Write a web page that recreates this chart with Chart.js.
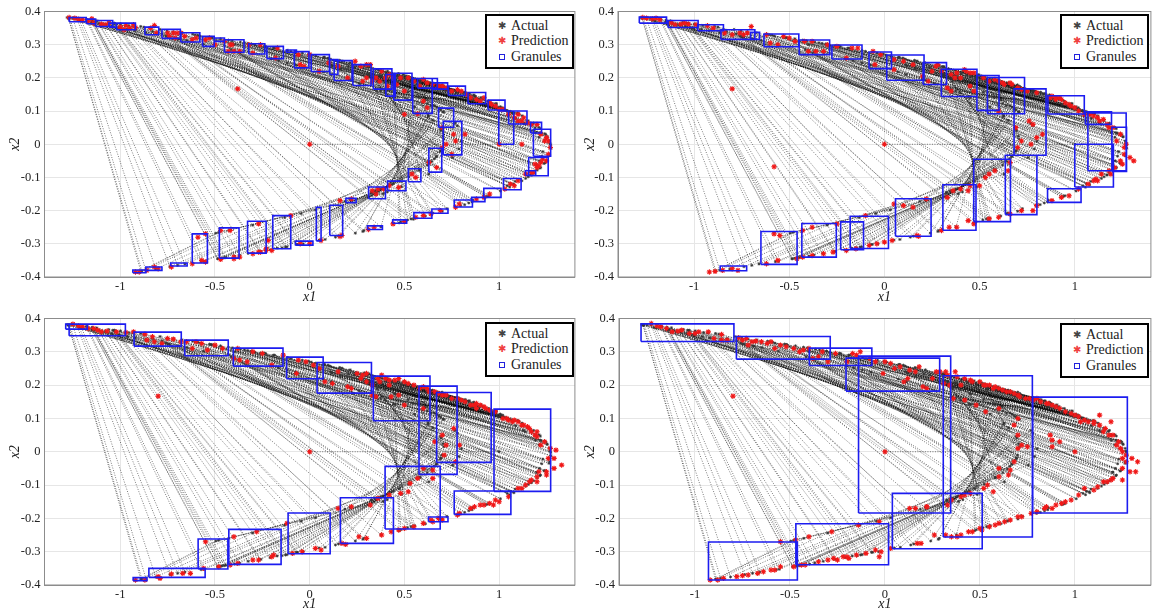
<!DOCTYPE html>
<html>
<head>
<meta charset="utf-8">
<script src="https://cdn.jsdelivr.net/npm/chart.js@4"></script>
<style>
html, body { margin: 0; padding: 0; background: #fff; width: 1152px; height: 614px; overflow: hidden; }
canvas { position: absolute; }
.legend { position: absolute; box-sizing: border-box; width: 89px; height: 55px; background: #fff; border: 2px solid #000; font: 14px "Liberation Serif", serif; color: #222; }
.legend div { position: absolute; left: 24px; line-height: 16px; white-space: nowrap; }
.legend span { position: absolute; left: -14px; top: 0; width: 10px; text-align: center; }
.legend i { position: absolute; left: -12px; top: 5px; width: 4px; height: 4px; border: 1.5px solid #2222dd; }
</style>
</head>
<body>
<canvas id="c1" width="580" height="307" style="left:0;top:0"></canvas>
<canvas id="c2" width="578" height="307" style="left:578px;top:0"></canvas>
<canvas id="c3" width="580" height="307" style="left:0;top:307px"></canvas>
<canvas id="c4" width="578" height="307" style="left:578px;top:307px"></canvas>
<script>
const xTicks = [-1, -0.5, 0, 0.5, 1];
const yTicks = [-0.4, -0.3, -0.2, -0.1, 0, 0.1, 0.2, 0.3, 0.4];
const legendNames = ['Actual', 'Prediction', 'Granules'];

// actual states in time order, the dotted chords join each one to the next
const actualPath = [
[0,0],[1,0],[-.4,.3],[1.076,-.12],[-.741,.323],[.555,-.222],[.347,.166],[.998,.104],[-.289,.299],[1.183,-.087],
[-1.044,.355],[-.172,-.313],[.645,-.052],[.366,.194],[1.006,.11],[-.308,.302],[1.169,-.093],[-1.005,.351],[-.064,-.302],[.693,-.019],
[.309,.208],[1.074,.093],[-.522,.322],[.941,-.157],[-.397,.282],[1.061,-.119],[-.695,.318],[.642,-.209],[.214,.193],[1.129,.064],
[-.721,.339],[.611,-.216],[.261,.183],[1.088,.078],[-.579,.326],[.857,-.174],[-.202,.257],[1.2,-.061],[-1.077,.36],[-.264,-.323],
[.579,-.079],[.452,.174],[.888,.136],[.032,.266],[1.265,.01],[-1.23,.38],[-.738,-.369],[-.132,-.221],[.755,-.04],[.162,.227],
[1.19,.049],[-.934,.357],[.136,-.28],[.694,.041],[.367,.208],[1.019,.11],[-.344,.306],[1.14,-.103],[-.922,.342],[.152,-.277],
[.691,.046],[.378,.207],[1.007,.113],[-.307,.302],[1.17,-.092],[-1.008,.351],[-.071,-.302],[.691,-.021],[.311,.207],[1.072,.093],
[-.516,.322],[.949,-.155],[-.416,.285],[1.043,-.125],[-.648,.313],[.725,-.194],[.07,.218],[1.211,.021],[-1.032,.363],[-.128,-.31],
[.667,-.038],[.339,.2],[1.039,.102],[-.409,.312],[1.078,-.123],[-.75,.323],[.535,-.225],[.374,.161],[.965,.112],[-.192,.29],
[1.238,-.058],[-1.204,.371],[-.659,-.361],[.031,-.198],[.801,.009],[.111,.24],[1.223,.033],[-1.061,.367],[-.209,-.318],[.621,-.063],
[.397,.186],[.965,.119],[-.185,.29],[1.242,-.056],[-1.216,.373],[-.697,-.365],[-.045,-.209],[.788,-.014],[.117,.236],[1.217,.035],
[-1.039,.365],[-.146,-.312],[.658,-.044],[.35,.197],[1.025,.105],[-.366,.308],[1.12,-.11],[-.866,.336],[.286,-.26],[.625,.086],
[.539,.188],[.781,.162],[.308,.234],[1.101,.092],[-.605,.33],[.818,-.182],[-.119,.245],[1.225,-.036],[-1.137,.368],[-.442,-.341],
[.385,-.133],[.659,.116],[.508,.198],[.837,.152],[.171,.251],[1.21,.051],[-.999,.363],[-.034,-.3],[.698,-.01],[.308,.209],
[1.076,.092],[-.529,.323],[.931,-.159],[-.372,.279],[1.085,-.112],[-.76,.326],[.517,-.228],[.398,.155],[.933,.119],[-.1,.28],
[1.266,-.03],[-1.274,.38],[-.892,-.382],[-.496,-.268],[.388,-.149],[.64,.116],[.543,.192],[.779,.163],[.313,.234],[1.097,.094],
[-.591,.329],[.84,-.177],[-.165,.252],[1.214,-.05],[-1.113,.364],[-.37,-.334],[.474,-.111],[.574,.142],[.681,.172],[.523,.204],
[.821,.157],[.213,.246],[1.182,.064],[-.892,.355],[.241,-.268],[.651,.072],[.479,.195],[.874,.144],[.075,.262],[1.254,.022],
[-1.18,.376],[-.573,-.354],[.186,-.172],[.78,.056],[.204,.234],[1.176,.061],[-.875,.353],[.281,-.263],[.627,.084],[.534,.188],
[.789,.16],[.288,.237],[1.121,.086],[-.674,.336],[.7,-.202],[.112,.21],[1.192,.034],[-.955,.358],[.081,-.287],[.704,.024],
[.33,.211],[1.059,.099],[-.471,.318],[1.007,-.141],[-.561,.302],[.861,-.168],[-.206,.258],[1.199,-.062],[-1.075,.36],[-.258,-.323],
[.584,-.077],[.446,.175],[.897,.134],[.008,.269],[1.269,.002],[-1.252,.381],[-.813,-.376],[-.301,-.244],[.629,-.09],[.356,.189],
[1.012,.107],[-.327,.304],[1.154,-.098],[-.962,.346],[.05,-.289],[.708,.015],[.313,.212],
[-1.15,.368],[-.484,-.345],[.327,-.145],[.705,.098],[.402,.212],[.986,.121],[-.24,.296],[1.215,-.072],[-1.139,.365],[-.451,-.342],
[.373,-.135],[.67,.112],[.484,.201],[.873,.145],[.078,.262],[1.253,.023],[-1.175,.376],[-.557,-.353],[.213,-.167],[.769,.064],
[.236,.231],[1.153,.071],[-.79,.346],[.472,-.237],[.451,.142],[.857,.135],[.107,.257],[1.241,.032],[-1.124,.372],[-.397,-.337],
[.442,-.119],[.607,.133],[.617,.182],[.649,.185],[.595,.195],[.699,.179],[.495,.21],[.867,.149],[.097,.26],[1.247,.029],
[-1.148,.374],[-.471,-.344],[.345,-.141],[.692,.104],[.434,.208],[.944,.13],[-.118,.283],[1.264,-.035],[-1.272,.379],[-.886,-.382],
[-.481,-.266],[.41,-.144],[.621,.123],[.583,.186],[.71,.175],[.469,.213],[.905,.141],[-.006,.272],[1.272,-.002],[-1.267,.382],
[-.865,-.38],[-.427,-.26],[.485,-.128],[.543,.146],[.733,.163],[.411,.22],[.984,.123],[-.233,.295],[1.219,-.07],[-1.15,.366],
[-.486,-.345],[.324,-.146],[.707,.097],[-.78,.333],[.481,-.234],[.442,.144],[.87,.133],[.073,.261],[-.83,.34],[.376,-.249],
[.553,.113],[.685,.166],[.509,.206],[.843,.153],[.158,.253],[1.218,.047],[-1.03,.365],[-.12,-.309],[.671,-.036],[.334,.201],
[1.045,.1],[-.429,.314],[1.056,-.129],[-.69,.317],[.65,-.207],[.201,.195],[1.138,.06],[-.753,.341],[.547,-.226],[.355,.164],
[.988,.107],[-.26,.296],[1.201,-.078],[-1.097,.36],[-.325,-.329],[.523,-.098],[.519,.157],[.78,.156],[.304,.234],[1.105,.091],
[-.618,.332],[.797,-.185],[-.074,.239],[1.231,-.022],[-1.144,.369],[-.463,-.343],[.357,-.139],[.683,.107],[.454,.205],[.916,.136],
[-.039,.275],[1.273,-.012],[-1.28,.382]
];

// predictions, one list per panel
const prediction1 = [
[0,0],[-.38,.167],[-1.27,.382],[-1.24,.38],[-1.22,.377],[-1.2,.375],[-1.15,.378],[-1.14,.365],[-1.1,.362],[-1.06,.365],[-1,.353],[-.97,.358],[-.95,.35],[-.92,.352],[-.93,.36],
[-.84,.35],[-.82,.358],[-.81,.335],[-.75,.335],[-.72,.335],[-.7,.335],[-.68,.335],[-.66,.325],[-.6,.32],[-.55,.315],[-.53,.32],[-.5,.3],[-.45,.31],[-.41,.3],[-.4,.28],
[-.37,.28],[-.32,.3],[-.3,.275],[-.26,.3],[-.18,.26],[-.17,.29],[-.06,.27],[-.05,.24],[-.03,.235],[0,.27],[.05,.22],[.1,.245],[.15,.235],[.2,.2],[.24,.25],[.27,.235],
[.3,.2],[.32,.24],[.35,.2],[.37,.19],[.4,.2],[.44,.2],[.46,.18],[.5,.16],[.5,.09],[.55,.19],[.57,.092],[.58,.175],[.6,.195],[.62,.11],[.65,.18],[.68,.175],[.7,.175],
[.75,.16],[.78,.165],[.8,.16],[.85,.14],[.88,.135],[.92,.14],[.95,.125],[.98,.115],[1,.105],[1.05,.09],[1.1,.09],[1.12,.07],[1.17,.06],[1.2,.06],[1.22,.03],[1.25,.02],
[1.27,-.01],[1.26,-.03],[1.22,-.055],[1.2,-.07],[1.18,-.085],[1.14,-.09],[1.1,-.11],[1.06,-.12],[1.03,-.135],[.95,-.15],[.88,-.165],[.79,-.18],[.77,-.19],[.69,-.2],[.6,-.215],
[.56,-.22],[.44,-.24],[.31,-.257],[.34,-.25],[.5,-.233],[.17,-.275],[.16,-.278],[.16,-.17],[.22,-.165],[.33,-.14],[.36,-.135],[.42,-.125],[.47,-.13],[.54,-.09],[.56,-.1],
[.63,-.055],[.67,-.07],[.7,-.01],[.72,0],[.77,.01],[.75,-.03],[.82,.03],[.7,.05],[.76,.03],[.06,-.29],[0,-.3],[-.05,-.3],[-.2,-.32],[-.22,-.29],[-.23,-.32],[-.27,-.325],
[-.3,-.33],[-.27,-.24],[-.37,-.34],[-.4,-.34],[-.47,-.347],[-.42,-.26],[-.47,-.26],[-.57,-.35],[-.55,-.355],[-.59,-.28],[-.55,-.27],[-.62,-.36],[-.73,-.37],[-.8,-.375],[-.82,-.37],
[-.92,-.385],[-.9,-.385],[-.1,-.215],[1,0],[1.12,0],
[-1.17,.37],[-1.08,.36],[-.98,.345],[-.74,.325],[-.71,.32],[-.62,.315],[-.43,.28],[-.42,.3],[.28,.19],[.3,.24],[.33,.19],[.38,.22],[.41,.175],[.42,.21],[.48,.2],[.52,.2],
[.6,.13],[.62,.185],[.72,.17],[.83,.15],[.9,.13],[.96,.12],[1.02,.105],[1.08,.08],[1.1,.07],[1.13,.08],[1.15,.065],[1.24,.01],[1.26,.01],[1.25,-.05],[1.21,-.065],[1.23,-.045],
[1.19,-.06],[1.17,-.085],[1.08,-.125],[.92,-.16],[.64,-.21],[.35,-.15],[.39,-.135],[-.23,-.315],[-.26,-.325],[-.4,-.345],[-.86,-.38]
];
const prediction2 = [
[0,0],[-.8,.167],[-.58,-.068],[-1.27,.382],[-1.25,.38],[-1.22,.378],[-1.18,.375],[-1.12,.366],[-1.07,.362],[-1.03,.362],[-.99,.36],[-.93,.357],[-.9,.35],[-.84,.335],[-.8,.33],
[-.76,.335],[-.7,.355],[-.62,.33],[-.6,.305],[-.56,.3],[-.53,.325],[-.5,.32],[-.47,.31],[-.42,.31],[-.38,.31],[-.4,.28],[-.36,.28],[-.32,.28],[-.3,.3],[-.2,.26],[-.25,.295],
[-.17,.29],[-.14,.29],[-.06,.28],[-.05,.24],[-.02,.27],[.05,.225],[.05,.255],[.1,.25],[.15,.24],[.2,.205],[.23,.19],[.27,.235],[.3,.22],[.33,.17],[.35,.16],[.37,.2],[.4,.2],
[.43,.22],[.45,.175],[.47,.16],[.55,.19],[.58,.195],[.6,.1],[.63,.18],[.66,.185],[.7,.17],[.75,.16],[.8,.155],[.87,.14],[.92,.14],[.95,.125],[.98,.115],[1.05,.09],[1.1,.085],
[1.13,.07],[1.17,.06],[1.2,.05],[1.24,.03],[1.27,0],[1.26,-.03],[1.24,-.05],[1.21,-.07],[1.18,-.08],[1.14,-.09],[1.11,-.105],[1.07,-.12],[1.02,-.135],[.97,-.155],[.93,-.16],
[.88,-.17],[.8,-.185],[.78,-.2],[.72,-.2],[.66,-.21],[.6,-.22],[.55,-.225],[.47,-.24],[.44,-.23],[.38,-.25],[.34,-.25],[.3,-.26],[1.31,-.05],[1.29,-.04],[.17,-.275],[.18,-.277],
[.05,-.18],[.1,-.185],[.15,-.19],[.22,-.165],[.33,-.16],[.36,-.14],[.4,-.135],[.44,-.14],[.45,-.125],[.5,-.125],[.53,-.1],[.55,-.09],[.58,-.08],[.65,-.08],[.66,-.055],[.7,-.01],
[.72,.01],[.69,.05],[.76,.07],[.78,.06],[.8,.02],[.83,.03],[.77,.0],[-.1,-.215],[-.25,-.24],[-.38,-.25],[-.43,-.26],[-.55,-.275],[-.58,-.27],[-.56,-.35],[-.62,-.36],[-.46,-.345],
[-.43,-.34],[-.38,-.335],[-.32,-.33],[-.27,-.325],[-.2,-.32],[-.15,-.315],[-.08,-.305],[-.04,-.3],[0,-.295],[.04,-.29],[-.8,-.375],[-.77,-.38],[-.92,-.385],[-.89,-.383],[-.85,-.38],
[-1.2,.38],[-1.1,.36],[-1.05,.365],[-.74,.33],[-.72,.335],[.25,.22],[.28,.24],[.35,.21],[.38,.215],[.42,.225],[.45,.215],[.47,.215],[.52,.2],[.6,.19],[.62,.185],[.67,.18],[.72,.165],
[.9,.135],[.88,.145],[.9,.14],[.93,.135],[.97,.12],[1,.11],[1.02,.1],[1.08,.09],[1.12,.08],[1.15,.075],[1.18,.05],[1.22,.01],[1.26,-.01],[1.25,-.06],[1.19,-.09],[1.1,-.11],[1.12,-.11]
];
const prediction3 = [
[0,0],[-.8,.167],[-1.25,.383],[-1.22,.378],[-1.2,.375],[-1.14,.37],[-1.12,.365],[-1.07,.362],[-1.02,.36],[-.97,.358],[-.93,.36],[-.87,.353],[-.86,.335],[-.82,.33],[-.78,.325],
[-.75,.34],[-.72,.338],[-.68,.33],[-.62,.31],[-.6,.33],[-.57,.325],[-.54,.305],[-.5,.32],[-.46,.31],[-.38,.31],[-.4,.28],[-.37,.275],[-.33,.27],[-.3,.3],[-.25,.295],[-.2,.26],
[-.14,.29],[-.06,.275],[-.07,.235],[-.02,.27],[.02,.26],[.05,.25],[.08,.21],[.12,.205],[.15,.24],[.2,.195],[.22,.19],[.25,.235],[.28,.23],[.3,.21],[.33,.17],[.35,.165],[.37,.21],
[.38,.23],[.42,.215],[.45,.215],[.5,.14],[.43,.165],[.47,.17],[.55,.2],[.58,.19],[.6,.13],[.63,.18],[.66,.18],[.7,.17],[.75,.16],[.8,.155],[.85,.14],[.87,.14],[.92,.135],[.95,.125],
[1.02,.1],[1.05,.095],[1.1,.09],[1.13,.08],[1.17,.06],[1.2,.045],[1.24,.03],[1.27,.01],[1.3,.005],[1.29,-.02],[1.33,-.04],[1.29,-.05],[1.25,-.06],[1.21,-.06],[1.2,-.09],[1.14,-.1],
[1.1,-.11],[1.05,-.135],[.98,-.145],[.95,-.155],[.92,-.16],[.97,-.16],[.85,-.17],[.79,-.185],[.78,-.19],[.7,-.205],[.65,-.21],[.55,-.225],[.47,-.235],[.43,-.24],[.38,-.25],[.3,-.26],
[.26,-.255],[.17,-.275],[.19,-.278],[.15,-.17],[.22,-.165],[.32,-.16],[.36,-.14],[.42,-.13],[.48,-.125],[.53,-.095],[.52,-.12],[.57,-.08],[.6,-.05],[.65,-.08],[.65,-.055],[.71,-.01],
[.66,.03],[.7,.05],[.76,.07],[.72,.02],[.77,-.03],[.79,.02],[.03,-.29],[.06,-.295],[-.04,-.3],[-.09,-.305],[-.2,-.315],[-.19,-.31],[-.27,-.325],[-.3,-.325],[-.38,-.335],[-.42,-.34],
[-.48,-.345],[-.56,-.35],[-.55,-.27],[-.4,-.255],[-.28,-.24],[-.12,-.215],[-.63,-.365],[-.67,-.365],[-.73,-.367],[-.8,-.375],[-.79,-.38],[-.87,-.385],[-.92,-.385],
[-1.17,.37],[-1.1,.36],[-.83,.345],[-.65,.33],[.27,.22],[.3,.235],[.33,.2],[.36,.22],[.4,.22],[.42,.2],[.47,.22],[.5,.21],[.52,.205],[.6,.195],[.62,.19],[.68,.175],[.72,.17],[.78,.16],
[.82,.15],[.88,.145],[.9,.14],[.88,.13],[.93,.13],[.98,.12],[1.07,.09],[1.04,.1],[1.08,.095],[1.12,.08],[1.15,.075],[1.16,.07],[1.19,.05],[1.2,.06],[1.22,.02],[1.26,-.02],[1.25,-.07],
[1.2,-.075],[1.17,-.085],[1.16,-.09],[1.12,-.11],[1,-.15],[.9,-.16],[.87,-.165],[.68,-.2],[.64,-.205],[.6,-.215],[.5,-.23]
];
const prediction4 = [
[0,0],[-.8,.167],[-1.23,.385],[-1.2,.378],[-1.15,.37],[-1.12,.36],[-1.07,.365],[-1.03,.355],[-.98,.36],[-.93,.36],[-.86,.352],[-.86,.335],[-.83,.335],[-.9,.34],[-.77,.342],[-.73,.34],
[-.68,.332],[-.72,.32],[-.65,.33],[-.6,.33],[-.58,.31],[-.55,.32],[-.52,.315],[-.48,.31],[-.43,.305],[-.4,.31],[-.38,.28],[-.33,.3],[-.3,.27],[-.26,.295],[-.2,.27],[-.15,.29],[-.13,.3],
[-.05,.27],[0,.27],[-.01,.235],[.05,.25],[.08,.255],[.1,.21],[.12,.22],[.16,.24],[.18,.255],[.2,.195],[.22,.19],[.25,.22],[.29,.24],[.32,.24],[.34,.2],[.37,.24],[.36,.16],[.4,.2],
[.42,.155],[.45,.215],[.48,.14],[.5,.21],[.55,.2],[.53,.12],[.58,.195],[.6,.13],[.62,.185],[.66,.18],[.7,.1],[.7,.17],[.74,.16],[.78,.155],[.8,.16],[.85,.145],[.9,.135],[.87,.05],
[.88,.035],[.92,.03],[.88,.015],[1,0],[.95,.12],[1,.11],[1.03,.09],[1.1,.09],[1.13,.08],[1.13,.11],[1.19,.09],[1.15,.06],[1.2,.05],[1.22,.02],[1.25,0],[1.27,-.01],[1.3,-.02],[1.33,-.03],
[1.32,-.06],[1.29,-.06],[1.25,-.05],[1.25,-.085],[1.2,-.08],[1.17,-.09],[1.12,-.105],[1.05,-.11],[1.02,-.13],[.95,-.15],[.9,-.16],[.85,-.165],[.84,-.17],[.77,-.185],[.7,-.195],[.63,-.21],
[.6,-.215],[.55,-.225],[.51,-.235],[.44,-.24],[.4,-.25],[.35,-.255],[.32,-.25],[.26,-.25],[.17,-.275],[.19,-.275],[.16,-.17],[.22,-.165],[.33,-.16],[.4,-.135],[.45,-.125],[.52,-.11],[.54,-.1],
[.57,-.12],[.6,-.05],[.65,-.07],[.66,-.055],[.68,-.03],[.7,.01],[.72,.02],[.75,.015],[.7,.05],[.68,.08],[.03,-.29],[-.02,-.3],[-.05,-.295],[-.03,-.315],[-.1,-.305],[-.19,-.32],[-.22,-.315],
[-.25,-.325],[-.3,-.325],[-.35,-.33],[-.42,-.34],[-.48,-.345],[-.55,-.345],[-.58,-.355],[-.64,-.36],[-.67,-.365],[-.72,-.37],[-.78,-.375],[-.85,-.38],[-.88,-.385],[-.55,-.27],[-.4,-.255],
[-.28,-.24],[-.14,-.22],[-.47,-.265],[-.03,-.21],[-.92,-.385],
[-1.18,.375],[-1.09,.362],[-1,.355],[-.75,.335],[-.7,.33],[-.62,.325],[-.45,.3],[-.35,.285],[-.17,.295],[-.08,.28],[.03,.265],[.13,.245],[.27,.24],[.31,.205],[.33,.23],[.38,.225],[.42,.22],
[.46,.21],[.52,.2],[.53,.2],[.57,.19],[.6,.19],[.64,.18],[.68,.175],[.71,.165],[.76,.16],[.82,.15],[.86,.145],[.88,.14],[.92,.13],[.98,.115],[1.02,.105],[1.05,.095],[1.07,.09],[1.1,.085],
[1.16,.07],[1.18,.05],[1.23,.03],[1.24,.01],[1.25,-.02],[1.27,-.03],[1.19,-.085],[1.15,-.09],[1.1,-.115],[.98,-.145],[.93,-.155],[.88,-.17],[.8,-.18],[.72,-.195],[.66,-.205],[.58,-.22],[.5,-.23],
[.46,-.24],[.38,-.255],[.22,-.165],[.35,-.145],[.42,-.13],[.13,-.17],[.6,-.075],[-.2,-.315],[-.15,-.31],[-.27,-.32],[-.44,-.34],[-.6,-.355],[-.75,-.372]
];

// granule boxes, one list per panel: xmin, xmax, ymin, ymax
const granules1 = [
[-1.27,-1.18,.369,.382],[-1.178,-1.13,.363,.377],[-1.13,-1.04,.355,.373],[-1.06,-1.02,.353,.365],[-1.02,-.92,.345,.365],[-.87,-.797,.33,.353],
[-.78,-.683,.319,.346],[-.68,-.58,.308,.336],[-.566,-.504,.295,.325],[-.504,-.45,.31,.32],[-.45,-.347,.277,.315],[-.322,-.237,.272,.303],
[-.226,-.139,.258,.295],[-.124,-.07,.277,.284],[-.081,-.004,.23,.279],[.008,.104,.219,.27],[.106,.149,.21,.255],[.129,.224,.192,.252],
[.228,.324,.177,.24],[.336,.434,.166,.227],[.402,.452,.145,.21],[.444,.54,.133,.214],[.544,.647,.093,.198],[.57,.674,.169,.198],
[.647,.728,.166,.185],[.732,.822,.147,.175],[.836,.929,.122,.156],[.942,1.031,.103,.133],[1.05,1.147,.061,.1],[.998,1.077,0,.1],
[1.166,1.224,.034,.066],[1.181,1.272,-.036,.045],[1.156,1.259,-.095,-.04],[1.139,1.193,-.094,-.08],[1.023,1.116,-.137,-.103],[.919,1.01,-.16,-.133],
[.855,.925,-.173,-.16],[.763,.859,-.189,-.168],[.645,.73,-.208,-.195],[.55,.645,-.223,-.206],[.438,.512,-.238,-.228],[.305,.384,-.257,-.246],
[.311,.4,-.164,-.129],[.411,.508,-.14,-.111],[.521,.587,-.113,-.074],[.629,.697,-.084,-.012],[.68,.76,.051,.109],[.705,.803,-.032,.069],
[.191,.245,-.176,-.163],[.106,.174,-.275,-.184],[.035,.06,-.291,-.19],[-.075,.017,-.304,-.292],[-.195,-.1,-.315,-.215],[-.328,-.23,-.328,-.232],
[-.477,-.373,-.343,-.252],[-.62,-.54,-.358,-.27],[-.734,-.647,-.367,-.358],[-.865,-.78,-.38,-.37],[-.934,-.865,-.387,-.379]
];
const granules2 = [
[-1.288,-1.145,.365,.383],[-1.137,-.979,.352,.373],[-.981,-.846,.342,.36],[-.859,-.681,.316,.345],[-.703,-.656,.316,.337],[-.633,-.45,.294,.332],
[-.448,-.288,.27,.314],[-.276,-.118,.257,.299],[-.081,.037,.228,.278],[.012,.208,.193,.269],[.203,.326,.18,.246],[.299,.486,.144,.226],
[.486,.602,.102,.207],[.541,.736,.092,.201],[.681,.849,-.033,.167],[.859,1.05,.091,.146],[1.056,1.193,.06,.098],[1.069,1.27,-.08,.094],
[1.195,1.272,-.082,.051],[1,1.203,-.129,0],[.857,1.033,-.175,-.134],[.635,.801,-.212,-.033],[.469,.662,-.233,-.045],[.307,.481,-.259,-.122],
[.058,.245,-.277,-.164],[-.18,.021,-.314,-.217],[-.23,-.11,-.318,-.234],[-.434,-.253,-.34,-.239],[-.649,-.459,-.362,-.263],[-.863,-.724,-.381,-.367]
];
const granules3 = [
[-1.288,-1.174,.368,.383],[-1.27,-.973,.348,.383],[-.927,-.678,.317,.359],[-.66,-.43,.288,.335],[-.403,-.141,.257,.311],[-.122,.071,.219,.284],
[.039,.326,.176,.268],[.336,.635,.093,.227],[.577,.778,-.068,.197],[.67,.958,-.032,.178],[.973,1.272,-.119,.128],[.763,1.062,-.188,-.118],
[.627,.73,-.21,-.196],[.398,.689,-.232,-.044],[.162,.442,-.275,-.138],[-.114,.108,-.306,-.184],[-.427,-.151,-.338,-.233],[-.589,-.432,-.352,-.262],
[-.849,-.552,-.377,-.35],[-.932,-.859,-.387,-.378]
];
const granules4 = [
[-1.284,-.795,.331,.384],[-.782,-.288,.278,.346],[-.398,-.069,.259,.311],[-.205,.288,.182,.281],[-.139,.346,-.184,.287],[.307,.776,-.256,.228],
[.778,1.276,-.184,.164],[.039,.512,-.291,-.125],[-.469,.019,-.339,-.216],[-.929,-.461,-.385,-.271]
];

const serif = '"Liberation Serif", serif';

function toPoints(rows) {
    return rows.map(r => ({ x: r[0], y: r[1] }));
}

// closed outline of every box, with a gap between boxes
function boxOutlines(rows) {
    const pts = [];
    rows.forEach(r => {
        pts.push({ x: r[0], y: r[2] }, { x: r[1], y: r[2] }, { x: r[1], y: r[3] }, { x: r[0], y: r[3] }, { x: r[0], y: r[2] }, { x: null, y: null });
    });
    return pts;
}

const frame = {
    id: 'frame',
    afterDatasetsDraw(chart) {
        const a = chart.chartArea, c = chart.ctx;
        c.save();
        c.strokeStyle = '#8c8c8c';
        c.lineWidth = 1;
        c.strokeRect(a.left, a.top, a.right - a.left, a.bottom - a.top);
        c.restore();
    }
};

function drawPanel(id, preds, boxes, axisW, axisH, padTop, padRight, yTitlePad) {
    new Chart(document.getElementById(id), {
        type: 'scatter',
        data: {
            datasets: [
                { label: legendNames[2], data: boxOutlines(boxes), showLine: true, spanGaps: false, pointRadius: 0, borderColor: '#1c1cf0', borderWidth: 1.6, order: 0 },
                { label: legendNames[1], data: toPoints(preds), pointStyle: 'star', pointRadius: 2.7, pointBorderWidth: 1.1, borderColor: '#f01818', backgroundColor: '#f01818', order: 1 },
                { label: legendNames[0], data: toPoints(actualPath), pointStyle: 'star', pointRadius: 1.5, pointBorderWidth: 0.8, borderColor: '#333', backgroundColor: '#333', order: 2 },
                { label: 'path', data: toPoints(actualPath), showLine: true, pointRadius: 0, borderColor: 'rgba(0,0,0,0.75)', borderWidth: 0.7, borderDash: [1, 1.5], order: 3 }
            ]
        },
        options: {
            responsive: false,
            animation: false,
            layout: { padding: { top: padTop, right: padRight } },
            plugins: { legend: { display: false }, tooltip: { enabled: false } },
            scales: {
                x: {
                    type: 'linear', min: -1.4, max: 1.4,
                    afterBuildTicks: s => { s.ticks = xTicks.map(v => ({ value: v })); },
                    afterFit: s => { s.height = axisH; },
                    grid: { color: '#e6e6e6', drawTicks: false },
                    border: { color: '#8c8c8c' },
                    ticks: { color: '#222', padding: 2, maxRotation: 0, font: { family: serif, size: 12.5 }, callback: v => String(v) },
                    title: { display: true, text: 'x1', color: '#222', padding: { top: 0, bottom: 1 }, font: { family: serif, size: 14, style: 'italic' } }
                },
                y: {
                    type: 'linear', min: -0.4, max: 0.4,
                    afterBuildTicks: s => { s.ticks = yTicks.map(v => ({ value: v })); },
                    afterFit: s => { s.width = axisW; },
                    grid: { color: '#e6e6e6', drawTicks: false },
                    border: { color: '#8c8c8c' },
                    ticks: { color: '#222', padding: 4, font: { family: serif, size: 12.5 }, callback: v => String(v) },
                    title: { display: true, text: 'x2', color: '#222', padding: { top: yTitlePad, bottom: 0 }, font: { family: serif, size: 14, style: 'italic' } }
                }
            }
        },
        plugins: [frame]
    });
}

drawPanel('c1', prediction1, granules1, 44.5, 30, 10, 2, 7);
drawPanel('c2', prediction2, granules2, 40, 30, 10, 2, 4);
drawPanel('c3', prediction3, granules3, 44.5, 29, 11, 2, 7);
drawPanel('c4', prediction4, granules4, 41, 29, 11, 2, 4);

function addLegend(left, top) {
    const box = document.createElement('div');
    box.className = 'legend';
    box.style.left = left + 'px';
    box.style.top = top + 'px';
    legendNames.forEach((name, i) => {
        const row = document.createElement('div');
        row.style.top = (1.5 + i * 15.6) + 'px';
        row.textContent = name;
        if (i < 2) {
            const mark = document.createElement('span');
            mark.textContent = '✱';
            mark.style.color = i === 0 ? '#444' : '#f04040';
            mark.style.fontSize = '10px';
            row.appendChild(mark);
        } else {
            row.appendChild(document.createElement('i'));
        }
        box.appendChild(row);
    });
    document.body.appendChild(box);
}
addLegend(485, 14);
addLegend(1060, 14);
addLegend(485, 322);
addLegend(1060, 323);
</script>
</body>
</html>
